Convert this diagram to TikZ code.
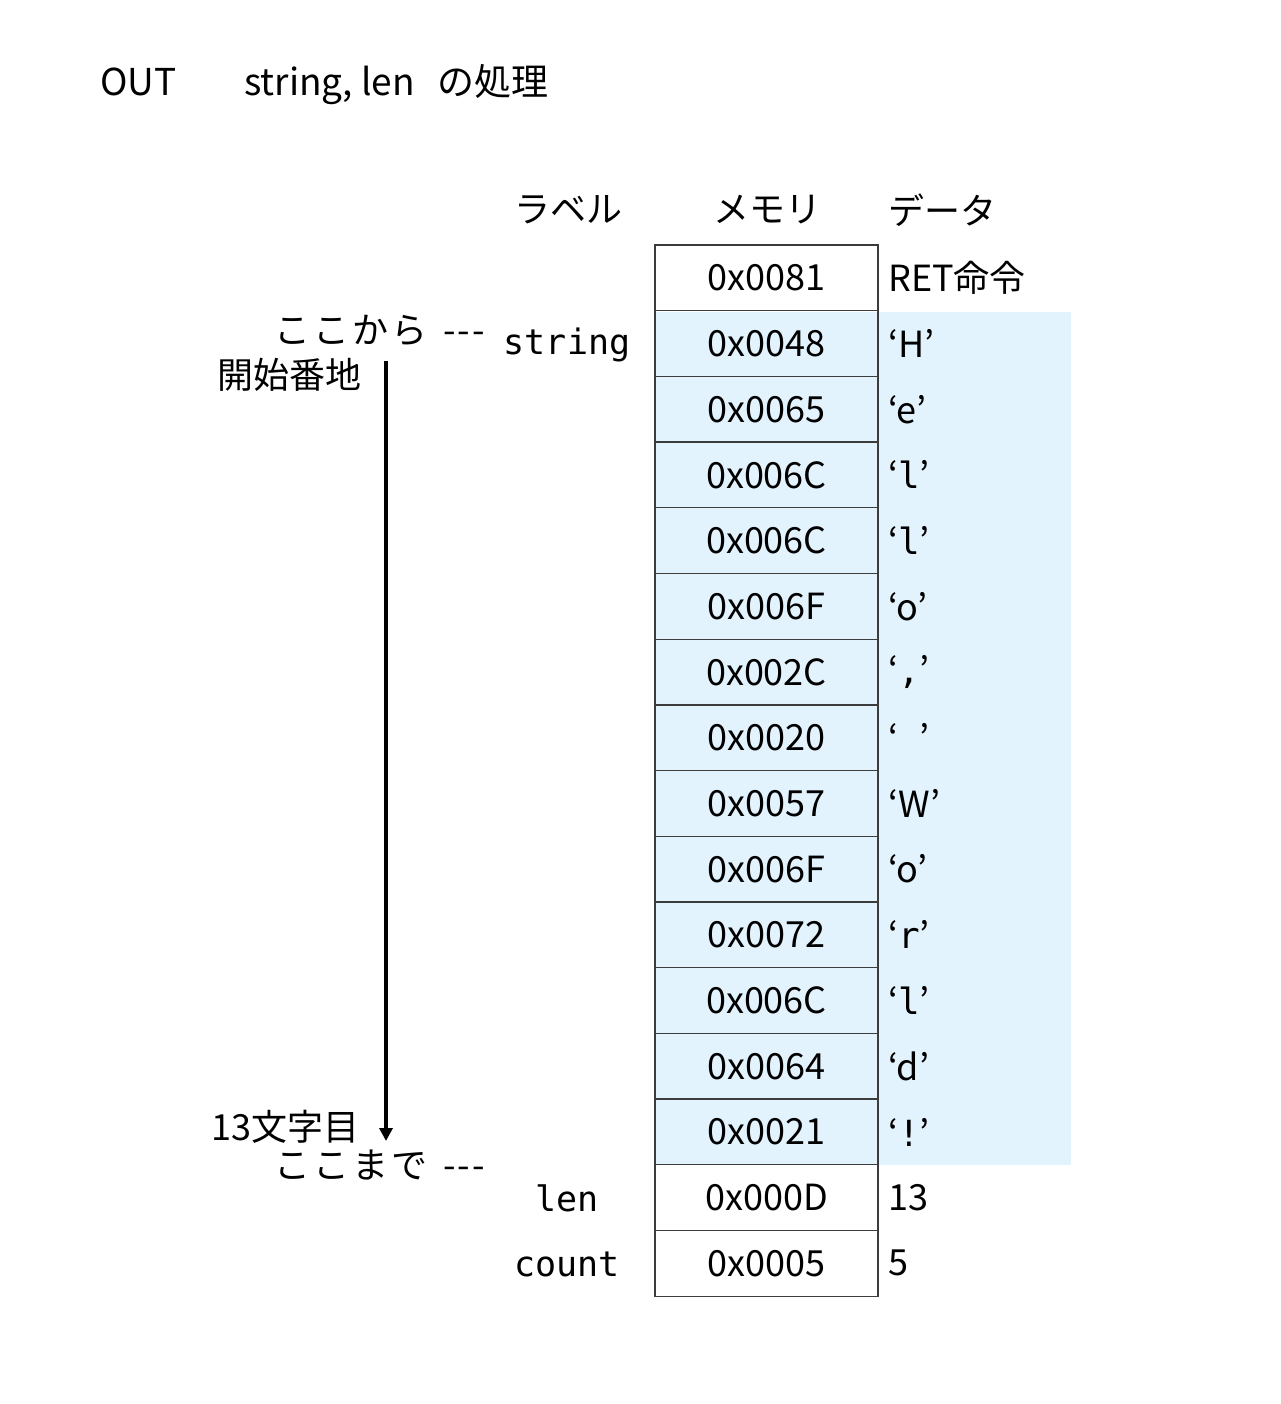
\documentclass[tikz,border=0pt]{standalone}
\usepackage{fontspec}
\setmainfont{Noto Sans CJK JP}
\newfontfamily\monof{DejaVu Sans Mono}
\usetikzlibrary{arrows.meta}
\definecolor{cellblue}{RGB}{227,243,253}
\definecolor{gridline}{RGB}{60,60,60}
\newcommand{\dsh}{\hspace{16pt}-\kern2pt-\kern2pt-}
\begin{document}
\begin{tikzpicture}[x=1pt,y=-1pt,
  txt/.style={font=\fontsize{36}{40}\selectfont, inner sep=0pt},
  ttl/.style={font=\fontsize{37}{42}\selectfont, inner sep=0pt, anchor=base west},
  mono/.style={font=\fontsize{35}{40}\selectfont\monof, inner sep=0pt},
  cell/.style={draw=gridline, line width=1.3pt, minimum width=223pt, minimum height=65.7pt, inner sep=0pt, font=\fontsize{36}{40}\selectfont},
  dat/.style={font=\fontsize{36}{40}\selectfont, inner sep=0pt, anchor=west},
  arr/.style={line width=3.5pt, -{Triangle[length=13pt,width=13pt]}}]
\useasboundingbox (0,0) rectangle (1280,1404);
% title
\node[ttl] (t1) at (100,96) {OUT};
\node[ttl] (t2) at (244,96) {string, len};
\node[ttl] (t3) at (437,96) {の処理};
% headers
\node[txt] (h1) at (568,210) {ラベル};
\node[txt] (h2) at (767,210) {メモリ};
\node[txt,anchor=west] (h3) at (888,210) {データ};
% blue background
\fill[cellblue] (655,311.7) rectangle (1071,1165.1);
% cells
\foreach \hx/\dt [count=\i from 0] in {0x0081/{RET命令},0x0048/{‘H’},0x0065/{‘e’},0x006C/{‘{\monof l}’},0x006C/{‘{\monof l}’},0x006F/{‘o’},0x002C/{‘{\monof ,}’},0x0020/{‘{\monof\ }’},0x0057/{‘W’},0x006F/{‘o’},0x0072/{‘{\monof r}’},0x006C/{‘{\monof l}’},0x0064/{‘d’},0x0021/{‘{\monof !}’},0x000D/{13},0x0005/{5}} {
  \node[cell] (m\i) at (766.5,{245+65.7*(\i+0.5)}) {\hx};
  \node[dat] (d\i) at (888,{245+65.7*(\i+0.5)}) {\dt};
}
% labels
\node[mono] (lstr) at (567,345) {string};
\node[mono] (llen) at (567,1198) {len};
\node[mono] (lcnt) at (567,1264) {count};
% annotations
\node[txt,anchor=east] (a1) at (485,330) {こ\kern3ptこ\kern3ptか\kern3ptら\dsh};
\node[txt,anchor=west] (a2) at (217,375) {開始番地};
\node[txt,anchor=west] (a3) at (211,1127) {13文字目};
\node[txt,anchor=east] (a4) at (485,1165) {こ\kern3ptこ\kern3ptま\kern3ptで\dsh};
\coordinate (s) at (386,361);
\coordinate (e) at (386,1141);
\draw[arr] (s) -- (e);
\end{tikzpicture}
\end{document}
